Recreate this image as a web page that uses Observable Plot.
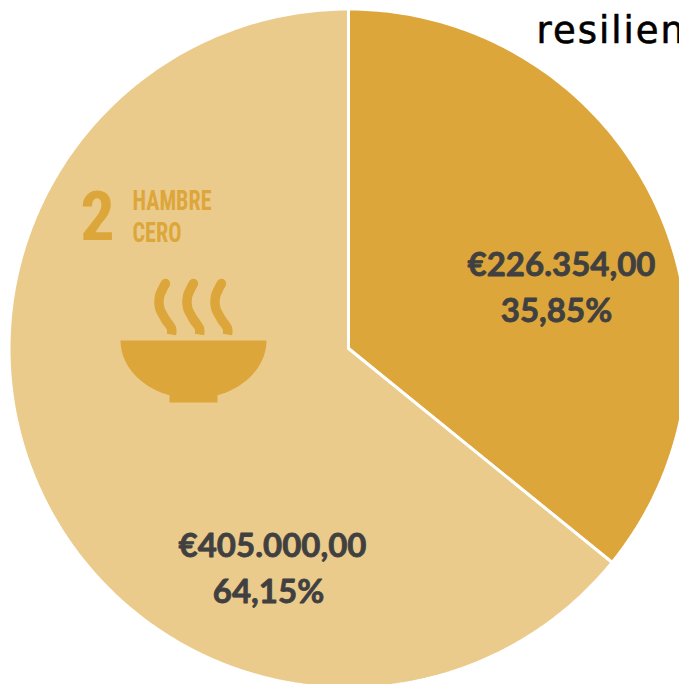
<!DOCTYPE html>
<html><head><meta charset="utf-8">
<script src="https://cdn.jsdelivr.net/npm/d3@7"></script>
<script src="https://cdn.jsdelivr.net/npm/@observablehq/plot@0.6"></script>
<style>html,body{margin:0;padding:0;background:#fff}svg{display:block}.ttl text{letter-spacing:2px}</style>
</head><body><div id="chart"></div>
<script>
const names = ["Financiado","Restante"];
const amounts = [226354, 405000];
const amountLabels = ["€226.354,00","€405.000,00"];
const shareLabels = ["35,85%","64,15%"];
const sliceColors = ["#DDA63A","#EBCB8B"];
const titleFragment = ["resilien"];
const goalNumber = ["2"];
const goalWords = ["HAMBRE","CERO"];

const cx = 348, cy = 348, R = 339.5;
const arcs = d3.pie().sort(null)(amounts);
const ring = arcs.flatMap((a,i)=>{
  const n = Math.ceil((a.endAngle-a.startAngle)*80);
  const pts = [{name:names[i],x:cx,y:cy}];
  for(let k=0;k<=n;k++){
    const t = a.startAngle+(a.endAngle-a.startAngle)*k/n;
    pts.push({name:names[i],x:cx+R*Math.sin(t),y:cy-R*Math.cos(t)});
  }
  pts.push({name:names[i],x:cx,y:cy});
  return pts;
});

// decorative goal icon
const iconColor = "#DDA63A";
const steamOffsets = [0,28,56];
const steam = steamOffsets.flatMap((o,i)=>[[165,283],[159,296],[159,307],[165,319],[171,328],[171,334]].map(([x,y])=>({i,x:x+o,y})));
const steamTops = steamOffsets.map(o=>({x:165+o,y:283}));
const bowl = d3.range(0,181,4).map(d=>{const t=d*Math.PI/180;return {x:193+73*Math.cos(t),y:340+58*Math.sin(t)}});
const foot = [[169,392],[217,392],[217,402],[169,402],[169,392]].map(([x,y])=>({x,y}));

const labelXY = [[561,265],[272,546]];
const shareXY = [[556,311],[268,592]];
const lato = "Lato, Carlito, sans-serif";
const narrow = "'Roboto Condensed','Liberation Sans Narrow','Liberation Sans',sans-serif";

const plot = Plot.plot({
  width:679,height:684,margin:0,
  x:{domain:[0,679],range:[0,679],axis:null},
  y:{domain:[0,684],range:[0,684],axis:null},
  style:{background:"transparent"},
  marks:[
    Plot.line(ring,{x:"x",y:"y",z:"name",fill:d=>sliceColors[names.indexOf(d.name)],stroke:"#fff",strokeWidth:3,strokeLinejoin:"miter"}),
    Plot.text(amountLabels,{x:(d,i)=>labelXY[i][0],y:(d,i)=>labelXY[i][1],text:d=>d,fontFamily:lato,fontWeight:700,fontSize:33,fill:"#404040",stroke:"#404040",strokeWidth:0.8,textAnchor:"middle",lineAnchor:"middle"}),
    Plot.text(shareLabels,{x:(d,i)=>shareXY[i][0],y:(d,i)=>shareXY[i][1],text:d=>d,fontFamily:lato,fontWeight:700,fontSize:33,fill:"#404040",stroke:"#404040",strokeWidth:0.8,textAnchor:"middle",lineAnchor:"middle"}),
    Plot.text(titleFragment,{x:536,y:42,text:d=>d,className:"ttl",fontFamily:"'DejaVu Sans', sans-serif",fontSize:37,fill:"#000",stroke:"#000",strokeWidth:0.6,textAnchor:"start",lineAnchor:"bottom"}),
    Plot.text(goalNumber,{x:97,y:218,text:d=>d,fontFamily:narrow,fontWeight:700,fontSize:68,fill:iconColor,textAnchor:"middle",lineAnchor:"middle"}),
    Plot.text(goalWords,{x:132,y:(d,i)=>201+i*32,text:d=>d,className:"goal",fontFamily:narrow,fontWeight:700,fontSize:27,fill:iconColor,textAnchor:"start",lineAnchor:"middle"}),
    Plot.line(steam,{x:"x",y:"y",z:"i",curve:"catmull-rom",stroke:iconColor,strokeWidth:9.5,strokeLinecap:"butt"}),
    Plot.dot(steamTops,{x:"x",y:"y",r:4.7,fill:iconColor}),
    Plot.line(bowl,{x:"x",y:"y",fill:iconColor,stroke:"none"}),
    Plot.line(foot,{x:"x",y:"y",fill:iconColor,stroke:"none"})
  ]
});
const goalWidths = [79,49];
d3.select(plot).selectAll(".goal text").each(function(d,i){
  this.setAttribute("textLength",goalWidths[i]);
  this.setAttribute("lengthAdjust","spacingAndGlyphs");
});
document.getElementById("chart").append(plot);
</script></body></html>
